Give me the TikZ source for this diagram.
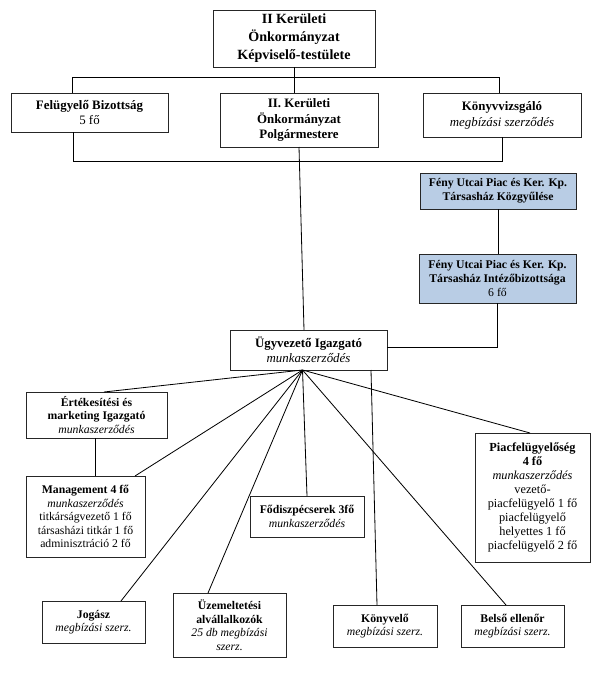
\documentclass[tikz,border=0pt]{standalone}
\usepackage{fontspec}
\setmainfont{Liberation Serif}
\usepackage{xcolor}
\usetikzlibrary{positioning,calc}
\definecolor{fenykek}{RGB}{185,205,229}

\begin{document}
\begin{tikzpicture}[x=0.03cm,y=-0.03cm,every node/.style={outer sep=0pt}]
\tikzstyle{box}=[draw=black!85,line width=0.8pt,align=center,inner sep=1pt,
font=\fontsize{10}{11.5}\selectfont]
\tikzstyle{fenybox}=[box,fill=fenykek,font=\fontsize{10}{11.9}\selectfont\bfseries]
\tikzstyle{wire}=[line width=0.7pt]
\useasboundingbox (0,0) rectangle (600,673);
% felso szint
\node (kepv) [box,minimum width=4.86cm,minimum height=1.71cm,
font=\fontsize{12}{15.3}\selectfont\bfseries] at (294,38.5)
{II Kerületi\\Önkormányzat\\Képviselő-testülete};
\node (felug) [box,minimum width=4.71cm,minimum height=1.17cm,
font=\fontsize{11}{13.6}\selectfont] at (89.5,112.5)
{\textbf{Felügyelő Bizottság}\\5 fő};
\node (polg) [box,minimum width=4.74cm,minimum height=1.62cm,
font=\fontsize{11}{13.6}\selectfont\bfseries] at (299,120)
{II. Kerületi\\Önkormányzat\\Polgármestere};
\node (konyvv) [box,minimum width=4.74cm,minimum height=1.32cm,
font=\fontsize{11}{13.6}\selectfont] at (502,115)
{\textbf{Könyvvizsgáló}\\\textit{megbízási szerződés}};
\node (kozgy) [fenybox,minimum width=4.68cm,minimum height=1.08cm] at (498,191)
{Fény Utcai Piac és Ker. Kp.\\Társasház Közgyűlése};
\node (intezo) [fenybox,minimum width=4.71cm,minimum height=1.47cm] at (497.5,278.5)
{Fény Utcai Piac és Ker. Kp.\\Társasház Intézőbizottsága\\\mdseries 6 fő};
\node (ugy) [box,minimum width=4.71cm,minimum height=1.2cm,
font=\fontsize{11}{12.75}\selectfont] at (308.5,350)
{\textbf{Ügyvezető Igazgató}\\\textit{munkaszerződés}};
% also szint
\node (ertek) [box,minimum width=4.23cm,minimum height=1.38cm] at (96.5,415)
{\textbf{Értékesítési és}\\\textbf{marketing Igazgató}\\\textit{munkaszerződés}};
\node (mgmt) [box,minimum width=3.57cm,minimum height=2.43cm] at (85.5,516.5)
{\textbf{Management 4 fő}\\\textit{munkaszerződés}\\titkárságvezető 1 fő\\
társasházi titkár 1 fő\\adminisztráció 2 fő};
\node (diszp) [box,minimum width=3.42cm,minimum height=1.23cm] at (307,516.5)
{\textbf{Fődiszpécserek 3fő}\\\textit{munkaszerződés}};
\node (piac) [box,minimum width=3.45cm,minimum height=3.87cm,
font=\fontsize{10.5}{11.9}\selectfont] at (532.5,497.5)
{\textbf{Piacfelügyelőség}\\\textbf{4 fő}\\\textit{munkaszerződés}\\vezető-\\
piacfelügyelő 1 fő\\piacfelügyelő\\helyettes 1 fő\\piacfelügyelő 2 fő};
\node (jogasz) [box,minimum width=3.09cm,minimum height=1.26cm] at (93.5,622)
{\textbf{Jogász}\\\textit{megbízási szerz.}};
\node (uzem) [box,minimum width=3.39cm,minimum height=1.92cm] at (229.5,625)
{\textbf{Üzemeltetési}\\\textbf{alvállalkozók}\\\textit{25 db megbízási}\\\textit{szerz.}};
\node (konyvelo) [box,minimum width=3.12cm,minimum height=1.26cm] at (385,626)
{\textbf{Könyvelő}\\\textit{megbízási szerz.}};
\node (belso) [box,minimum width=3.09cm,minimum height=1.26cm] at (512.5,626)
{\textbf{Belső ellenőr}\\\textit{megbízási szerz.}};
% gyujtovonalak
\coordinate (busL) at (72,77);
\coordinate (busR) at (499,77);
\coordinate (lowL) at (73,161);
\coordinate (lowR) at (502,161);
\coordinate (hub) at ($(ugy.south)+(-6,0)$);
\draw [wire] (kepv.south) -- (kepv.south |- polg.north);
\draw [wire] (felug.north -| busL) -- (busL) -- (busR) -- (konyvv.north -| busR);
\draw [wire] (felug.south -| lowL) -- (lowL) -- (lowR) -- (konyvv.south -| lowR);
\draw [wire] (polg.south) -- ($(ugy.north)+(-4.5,0)$);
\draw [wire] (kozgy.south) -- (kozgy.south |- intezo.north);
\draw [wire] (intezo.south) |- ($(ugy.east)+(0,-3)$);
\draw [wire] (hub) -- ($(ertek.north)+(7.5,0)$);
\draw [wire] ($(ertek.south)+(-1.5,0)$) -- ($(ertek.south |- mgmt.north)+(-1.5,0)$);
\draw [wire] (hub) -- ($(mgmt.north east)+(-10,0)$);
\draw [wire] (hub) -- ($(jogasz.north)+(27.5,0)$);
\draw [wire] (hub) -- ($(uzem.north)+(-21.5,0)$);
\draw [wire] (hub) -- (diszp.north);
\draw [wire] ($(ugy.south)+(62.5,0)$) -- ($(konyvelo.north)+(-8,0)$);
\draw [wire] (hub) -- ($(belso.north)+(-6.5,0)$);
\draw [wire] (hub) -- ($(piac.north)+(-2.5,0)$);
\end{tikzpicture}
\end{document}
